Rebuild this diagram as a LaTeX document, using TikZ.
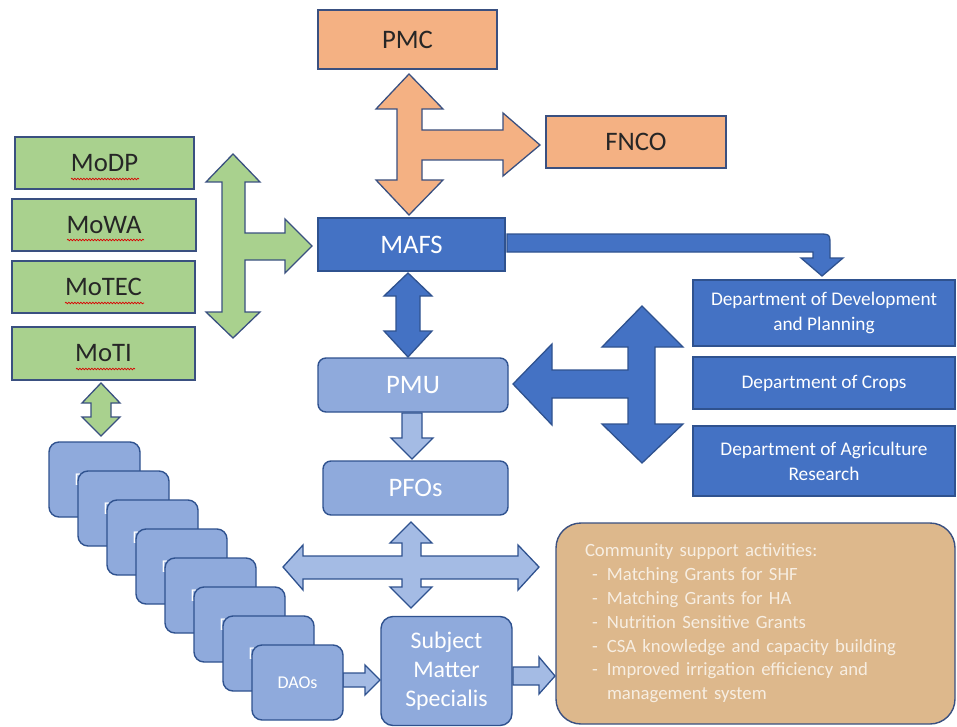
\documentclass[tikz,border=0pt]{standalone}
\usepackage{fontspec}
\setmainfont{Carlito}
\usetikzlibrary{decorations.pathmorphing}
\definecolor{orangef}{HTML}{F4B183}
\definecolor{greenf}{HTML}{A9D18E}
\definecolor{bluef}{HTML}{4472C4}
\definecolor{lbluef}{HTML}{8FAADC}
\definecolor{larrow}{HTML}{A4BBE4}
\definecolor{tanf}{HTML}{DDB88C}
\definecolor{edge}{HTML}{3A5080}
\definecolor{bedge}{HTML}{2F528F}
\definecolor{cream}{HTML}{F7EEE2}
\begin{document}
\begin{tikzpicture}[x=1pt,y=-1pt,
  sz/.style 2 args={minimum width=#1pt, minimum height=#2pt, inner sep=0pt},
  bigfont/.style={font=\fontsize{26.7}{30}\selectfont},
  obox/.style={draw=edge, line width=1.4pt, fill=orangef, text=black!85, bigfont},
  gbox/.style={draw=edge, line width=1.4pt, fill=greenf, text=black!85, bigfont},
  dbox/.style={draw=bedge, line width=1.4pt, fill=bluef, text=white, bigfont},
  deptbox/.style={draw=bedge, line width=1.2pt, fill=bluef, text=white, align=center,
    font=\fontsize{19.3}{25}\selectfont},
  lbox/.style={draw=bedge, line width=1.4pt, fill=lbluef, text=white, rounded corners=8pt, bigfont},
  daobox/.style={draw=bedge, line width=1.4pt, fill=lbluef, text=white, rounded corners=10pt,
    font=\fontsize{18}{21}\selectfont},
  commbox/.style={draw=edge, line width=1.4pt, fill=tanf, text=cream, rounded corners=25pt,
    font=\fontsize{18.7}{23.8}\selectfont},
  oarrow/.style={fill=orangef, draw=edge, line width=1.3pt, line join=miter},
  garrow/.style={fill=greenf, draw=edge, line width=1.3pt, line join=miter},
  barrow/.style={fill=bluef, draw=bedge, line width=1.3pt, line join=miter},
  larrowst/.style={fill=larrow, draw=bedge, line width=1.3pt, line join=miter},
  squig/.style={draw=red!85!black, line width=0.7pt, decorate,
    decoration={snake, segment length=3pt, amplitude=0.8pt}}]
\useasboundingbox (0,0) rectangle (957,727);

% ---------- arrows ----------
% orange T arrow (PMC - MAFS, to FNCO)
\path[oarrow] (409,74) -- (443,109) -- (422,109) -- (422,130) -- (503,130) -- (503,113)
  -- (540,145) -- (503,176) -- (503,160) -- (422,160) -- (422,180) -- (443,180)
  -- (409,215) -- (376,180) -- (397,180) -- (397,109) -- (376,109) -- cycle;
% green T arrow
\path[garrow] (233,154) -- (260,182) -- (245,182) -- (245,233) -- (285,233) -- (285,219)
  -- (312,246) -- (285,273) -- (285,260) -- (245,260) -- (245,312) -- (260,312)
  -- (233,338) -- (206,312) -- (222,312) -- (222,182) -- (206,182) -- cycle;
% green small double arrow
\path[garrow] (101,383) -- (120,403) -- (111,403) -- (111,417) -- (120,417) -- (101,436)
  -- (82,417) -- (91,417) -- (91,403) -- (82,403) -- cycle;
% MAFS <-> PMU
\path[barrow] (408,273) -- (432,296) -- (420,296) -- (420,331) -- (432,331) -- (408,357)
  -- (384,331) -- (396,331) -- (396,296) -- (384,296) -- cycle;
% MAFS -> Department bent arrow
\path[barrow] (507,234) -- (818,234) .. controls (830,234) .. (830,246) -- (830,258)
  -- (843,258) -- (822,276) -- (801,258) -- (813,258) -- (813,252) -- (507,252) -- cycle;
% blue T arrow (departments -> PMU)
\path[barrow] (642,306) -- (683,347) -- (655,347) -- (655,424) -- (683,424) -- (642,463)
  -- (602,424) -- (628,424) -- (628,398) -- (552,398) -- (552,425) -- (513,384)
  -- (552,344) -- (552,370) -- (628,370) -- (628,347) -- (602,347) -- cycle;
% PMU -> PFOs
\path[larrowst] (402,413) -- (422,413) -- (422,438) -- (433,438) -- (412,459) -- (391,438)
  -- (402,438) -- cycle;
% four-way cross arrow
\path[larrowst] (411,522) -- (432,543) -- (421,543) -- (421,556) -- (518,556) -- (518,545)
  -- (539,567) -- (518,590) -- (518,579) -- (421,579) -- (421,587) -- (432,587)
  -- (411,608) -- (390,587) -- (402,587) -- (402,579) -- (303,579) -- (303,590)
  -- (283,567) -- (303,545) -- (303,556) -- (402,556) -- (402,543) -- (390,543) -- cycle;
% DAOs -> SMS
\path[larrowst] (343,673) -- (365,673) -- (365,665) -- (380,680) -- (365,695) -- (365,687)
  -- (343,687) -- cycle;
% SMS -> community
\path[larrowst] (513,667) -- (539,667) -- (539,657) -- (555,676) -- (539,694) -- (539,685)
  -- (513,685) -- cycle;

% ---------- boxes ----------
\node[obox, sz={179}{59}] (pmc) at (407.5,39.5) {PMC};
\node[obox, sz={180}{52}] (fnco) at (636,142) {FNCO};
\node[dbox, sz={187}{53}] (mafs) at (411.5,244.5) {MAFS};

\node[gbox, sz={179}{52}] (modp) at (104.5,163) {MoDP};
\node[gbox, sz={184}{52}] (mowa) at (104,225) {MoWA};
\node[gbox, sz={183}{52}] (motec) at (103.5,287) {MoTEC};
\node[gbox, sz={183}{53}] (moti) at (103.5,353.5) {MoTI};
\draw[squig] (71,179) -- (139,179);
\draw[squig] (67,240) -- (144,240);
\draw[squig] (65,303) -- (144,303);
\draw[squig] (76,369) -- (135,369);

\node[lbox, sz={190}{54}] (pmu) at (413,385) {PMU};
\node[lbox, sz={185}{54}] (pfos) at (415.5,488) {PFOs};
\node[lbox, sz={131}{109}, rounded corners=12pt, align=center,
  font=\fontsize{23.8}{29}\selectfont] (sms) at (446.5,671) {Subject\\Matter\\Specialis};

\node[deptbox, sz={262}{66}] (dept1) at (824,313) {Department of Development\\and Planning};
\node[deptbox, sz={262}{52}] (dept2) at (824,383) {Department of Crops};
\node[deptbox, sz={262}{70}] (dept3) at (824,461) {Department of Agriculture\\Research};

\foreach \i in {0,...,7}
  \node[daobox, sz={91}{75}] (dao\i) at ({94.5+29*\i},{479.5+29*\i}) {DAOs};

\node[commbox, minimum width=399pt, minimum height=201pt, text width=341pt,
  inner xsep=29pt, inner ysep=0pt, align=left] (comm) at (755.5,623.5)
  {Community support activities:\\
   \makebox[22pt][l]{\hspace{7pt}-}Matching Grants for SHF\\
   \makebox[22pt][l]{\hspace{7pt}-}Matching Grants for HA\\
   \makebox[22pt][l]{\hspace{7pt}-}Nutrition Sensitive Grants\\
   \makebox[22pt][l]{\hspace{7pt}-}CSA knowledge and capacity building\\
   \makebox[22pt][l]{\hspace{7pt}-}Improved irrigation efficiency and\\
   \makebox[22pt][l]{}management system};
\end{tikzpicture}
\end{document}
